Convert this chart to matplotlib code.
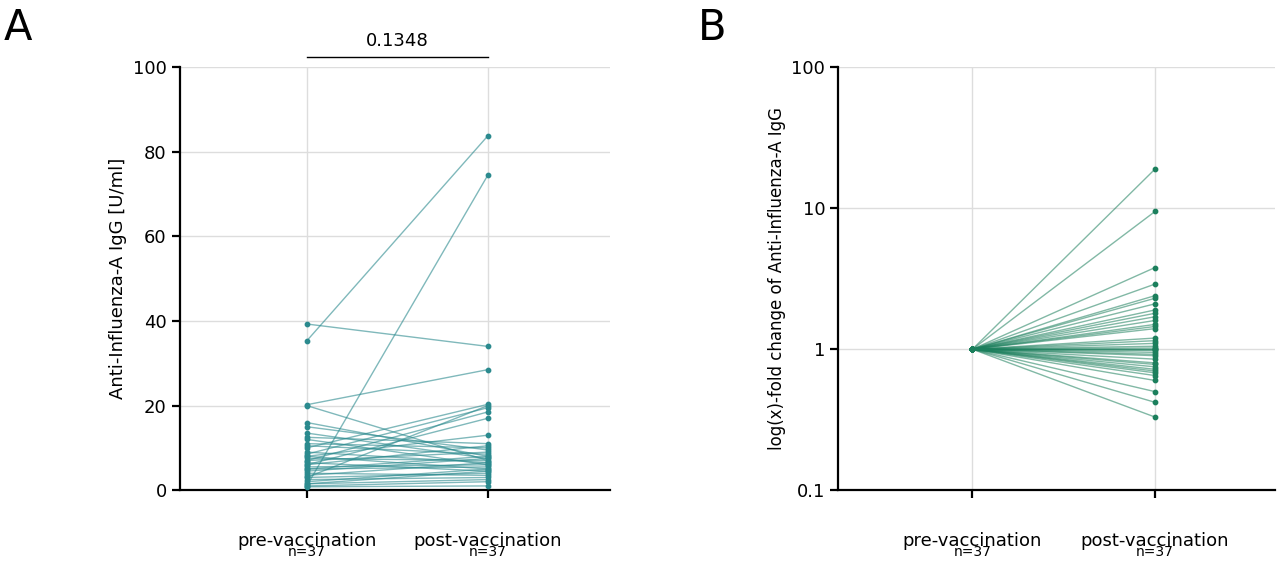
import matplotlib
matplotlib.use("Agg")
import matplotlib.pyplot as plt

categories = ["pre-vaccination", "post-vaccination"]
n_labels = ["n=37", "n=37"]
pre = [39.3, 35.3, 20.2, 20.0, 16.0, 15.0, 13.5, 12.5, 12.0, 11.0, 10.5, 10.0, 9.0, 8.5, 8.0, 8.0, 7.5, 7.0,
       7.0, 6.5, 6.0, 6.0, 5.5, 5.0, 5.0, 4.5, 4.0, 3.5, 3.0, 3.0, 2.5, 2.0, 1.5, 1.5, 1.0, 1.0, 0.8]
post = [34.0, 83.8, 28.5, 7.0, 8.0, 9.5, 7.5, 11.0, 6.0, 10.0, 8.5, 20.3, 6.5, 19.5, 13.0, 5.0, 7.0, 9.0,
        18.5, 4.5, 10.5, 17.0, 6.0, 8.0, 5.5, 7.5, 3.5, 6.5, 4.0, 20.0, 3.0, 5.0, 2.5, 4.5, 74.5, 2.0, 1.0]
fold = [19, 9.5, 3.8, 2.9, 2.4, 2.3, 2.1, 1.9, 1.8, 1.7, 1.6, 1.5, 1.45, 1.4, 1.2, 1.15, 1.1, 1.05, 1.02,
        1.0, 1.0, 0.98, 0.95, 0.92, 0.9, 0.85, 0.8, 0.78, 0.75, 0.72, 0.7, 0.68, 0.65, 0.6, 0.5, 0.42, 0.33]
p_text = "0.1348"

plt.rcParams['font.family'] = ['DejaVu Sans']
fig = plt.figure(figsize=(12.8, 5.66), dpi=100)
axA = fig.add_axes([0.1406, 0.134, 0.336, 0.747])
axB = fig.add_axes([0.655, 0.134, 0.341, 0.747])

cA = "#2b8a8e"
cB = "#1b7f5c"
for a, b in zip(pre, post):
    axA.plot([0, 1], [a, b], color=cA, alpha=0.6, lw=1, zorder=2)
axA.scatter([0]*len(pre), pre, s=10, color=cA, zorder=3)
axA.scatter([1]*len(post), post, s=10, color=cA, zorder=3)
axA.set_ylim(0, 100)
axA.set_xlim(-0.70, 1.675)
axA.set_yticks([0, 20, 40, 60, 80, 100])
axA.set_ylabel("Anti-Influenza-A IgG [U/ml]", fontsize=13)
axA.plot([0, 1], [102.5, 102.5], color="black", lw=1, clip_on=False)
axA.text(0.5, 104, p_text, ha="center", va="bottom", fontsize=13)

for f in fold:
    axB.plot([0, 1], [1, f], color=cB, alpha=0.55, lw=1, zorder=2)
axB.scatter([0]*len(fold), [1]*len(fold), s=10, color=cB, zorder=3)
axB.scatter([1]*len(fold), fold, s=10, color=cB, zorder=3)
axB.set_yscale("log")
axB.set_ylim(0.1, 100)
axB.set_xlim(-0.734, 1.656)
axB.set_yticks([0.1, 1, 10, 100])
axB.set_yticklabels(["0.1", "1", "10", "100"])
axB.minorticks_off()
axB.set_ylabel("log(x)-fold change of Anti-Influenza-A IgG", fontsize=12)

for ax in (axA, axB):
    ax.set_xticks([0, 1])
    ax.set_xticklabels(categories, fontsize=13)
    for i, t in enumerate(n_labels):
        ax.text(i, -0.13, t, transform=ax.get_xaxis_transform(), ha="center", va="top", fontsize=10)
    ax.grid(True, color="#dddddd", lw=1, zorder=0)
    ax.set_axisbelow(True)
    for s in ("top", "right"):
        ax.spines[s].set_visible(False)
    for s in ("left", "bottom"):
        ax.spines[s].set_linewidth(1.6)
    ax.tick_params(axis="both", width=1.6, length=6, labelsize=13)
    ax.tick_params(axis="x", pad=24)

fig.text(0.003, 0.93, "A", fontsize=30)
fig.text(0.545, 0.93, "B", fontsize=30)
fig.savefig("out.png", dpi=100)
